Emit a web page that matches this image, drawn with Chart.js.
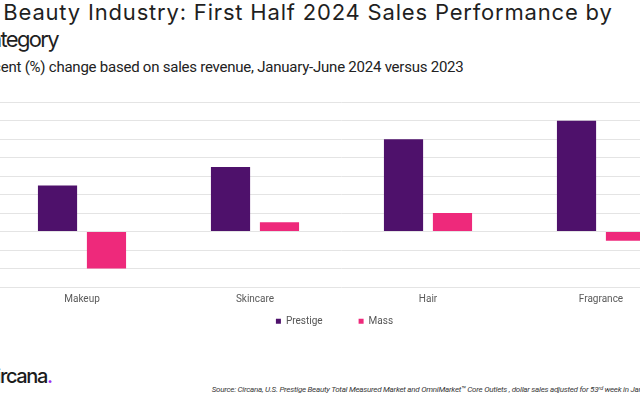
<!DOCTYPE html>
<html>
<head>
<meta charset="utf-8">
<script src="https://cdn.jsdelivr.net/npm/chart.js@4.4.1/dist/chart.umd.min.js"></script>
<style>
  html, body { margin: 0; padding: 0; background: #fff; }
  body { width: 640px; height: 396px; overflow: hidden; position: relative; }
  .txt { position: absolute; white-space: nowrap; line-height: 1; }
  #title1, #title2 { font-family: Inter, "Open Sans", sans-serif; font-size: 22px; color: #1f1f1f; }
  #sub { font-family: Roboto, sans-serif; font-size: 15px; color: #222; }
  #logo { font-family: Inter, sans-serif; font-weight: 500; font-size: 20px; color: #1b1b1b; }
  #source { font-family: Roboto, sans-serif; font-style: italic; font-size: 8px; color: #3a3a3a; }
  #chart { position: absolute; left: -40px; top: 90px; }
</style>
</head>
<body>
<div id="title1" class="txt"><span class="pre">U.S. </span><span class="vis">Beauty Industry: First Half 2024 Sales Performance by</span></div>
<div id="title2" class="txt"><span class="pre">Ca</span><span class="vis">tegory</span></div>
<div id="sub" class="txt"><span class="pre">Perc</span><span class="vis">ent (%) change based on sales revenue, January-June 2024 versus 2023</span></div>
<div id="logo" class="txt"><span class="pre">ci</span><span class="vis">rcana<span style="color:#a12cf2">.</span></span></div>
<div id="source" class="txt"><span class="pre"></span><span class="vis">Source: Circana, U.S. Prestige Beauty Total Measured Market and OmniMarket™ Core Outlets , dollar sales adjusted for 53ʳᵈ week in Ja</span>nuary 2023</div>
<canvas id="chart" width="740" height="277"></canvas>
<script>
var categories = ["Makeup", "Skincare", "Hair", "Fragrance"];
var prestige = [5, 7, 10, 12];
var mass = [-4, 1, 2, -1];
var yMin = -6;
var yMax = 14;
var yStep = 2;

var labelFont = { family: "Roboto, sans-serif", size: 10 };

// place a text line so its visible part starts at x0 and spans width px
function fitLine(id, x0, top, width) {
  var el = document.getElementById(id);
  var pre = el.querySelector(".pre");
  var vis = el.querySelector(".vis");
  var n = vis.textContent.length;
  var natural = vis.getBoundingClientRect().width;
  el.style.letterSpacing = ((width - natural) / (n - 1)) + "px";
  el.style.left = (x0 - pre.getBoundingClientRect().width) + "px";
  el.style.top = top + "px";
}

fitLine("title1", 3.3, 1.0, 608.5);
fitLine("title2", 0.5, 27.7, 59);
fitLine("sub", 0.7, 59.8, 463);
fitLine("logo", 0, 366, 53);
fitLine("source", 211.7, 385.7, 427);

// pull the legend up closer to the category labels
var legendLift = {
  id: "legendLift",
  afterLayout: function (chart) {
    var l = chart.legend;
    var o = l.options.labels;
    var want = chart.chartArea.bottom + 34.3 - o.padding - labelFont.size / 2;
    var dy = want - l.top;
    l.top += dy;
    l.bottom += dy;
  }
};

var ctx = document.getElementById("chart").getContext("2d");
var bar = new Chart(ctx, {
  type: "bar",
  data: {
    labels: categories,
    datasets: [
      {
        label: "Prestige",
        data: prestige,
        backgroundColor: "#4e116b",
        borderWidth: 0,
        categoryPercentage: 0.566,
        barPercentage: 0.8
      },
      {
        label: "Mass",
        data: mass,
        backgroundColor: "#ee297b",
        borderWidth: 0,
        categoryPercentage: 0.566,
        barPercentage: 0.8
      }
    ]
  },
  options: {
    responsive: false,
    devicePixelRatio: 1,
    animation: false,
    layout: { padding: { left: 21.5, right: 12.5, top: 12.3, bottom: 0 } },
    scales: {
      x: {
        grid: { display: false, drawTicks: false },
        border: { display: false },
        ticks: { color: "#5a5a5a", padding: 6, font: labelFont }
      },
      y: {
        min: yMin,
        max: yMax,
        afterFit: function (s) { s.width = 14; },
        ticks: { stepSize: yStep, display: false },
        grid: { color: "#e4e4e4", drawTicks: false },
        border: { display: false }
      }
    },
    plugins: {
      tooltip: { enabled: false },
      legend: {
        position: "bottom",
        labels: {
          boxWidth: 5,
          boxHeight: 5,
          padding: 36,
          color: "#555",
          font: labelFont
        }
      }
    }
  },
  plugins: [legendLift]
});
</script>
</body>
</html>
